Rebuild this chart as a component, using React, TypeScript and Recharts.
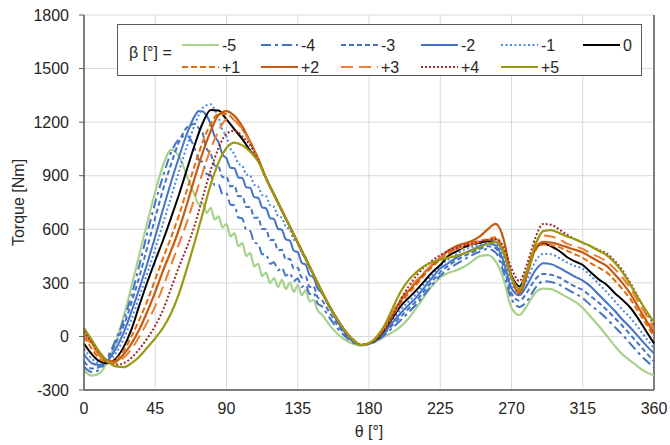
import { LineChart, Line, XAxis, YAxis, CartesianGrid, ReferenceLine } from "recharts";

// rotor angle samples (deg)
const theta = [
  0, 5, 10, 15, 20, 25, 30, 35, 40, 45, 50, 55, 60, 65, 70, 75, 80, 85, 90, 95, 100, 105, 110, 115, 120,
  125, 130, 135, 140, 145, 150, 155, 160, 165, 170, 175, 180, 185, 190, 195, 200, 205, 210, 215, 220, 225,
  230, 235, 240, 245, 250, 255, 260, 265, 270, 275, 280, 285, 290, 295, 300, 305, 310, 315, 320, 325, 330,
  335, 340, 345, 350, 355, 360,
];
// extra samples where the negative-beta curves ripple
const rippleTheta = [72.5, 77.5, 82.5, 87.5, 92.5, 97.5, 102.5, 107.5, 112.5, 117.5, 122.5, 127.5, 132.5, 137.5, 142.5, 147.5];

const xTicks = [0, 45, 90, 135, 180, 225, 270, 315, 360];
const yTicks = [-300, 0, 300, 600, 900, 1200, 1500, 1800];

const torqueM5 = [
  -190, -220, -205, -140, -35, 110, 280, 460, 640, 810, 960, 1045, 1010, 900, 790,
  745, 720, 672, 630, 577, 522, 467, 407, 357, 327, 317, 302, 287, 260, 205,
  125, 65, 15, -20, -42, -50,
  -42, -25, 0, 25, 55, 100, 160, 225, 285, 330, 355, 370, 390, 420, 450, 455, 420, 320, 160, 120, 175, 245,
  268, 265, 245, 220, 195, 160, 110, 60, 5, -50, -100, -135, -170, -200, -218,
];
const rippleM5 = [740, 690, 655, 610, 560, 505, 450, 392, 338, 298, 278, 266, 250, 230, 195, 145];

const torqueM4 = [
  -170, -200, -185, -115, -20, 90, 230, 400, 580, 750, 900, 1030, 1105, 1125, 1050,
  975, 905, 850, 800, 735, 660, 590, 520, 460, 415, 385, 355, 325, 290, 245,
  170, 105, 45, 0, -35, -50,
  -42, -25, 10, 50, 90, 135, 180, 235, 290, 340, 375, 405, 430, 455, 475, 490, 470, 360, 210, 165, 200, 270,
  310, 305, 290, 265, 240, 215, 175, 140, 100, 55, 10, -40, -90, -135, -175,
];
const rippleM4 = [990, 910, 847, 795, 737, 667, 595, 525, 460, 407, 370, 340, 310, 277, 237, 185];

const torqueM3 = [
  -140, -180, -170, -120, -40, 60, 190, 335, 500, 665, 825, 965, 1090, 1170, 1190,
  1135, 1025, 950, 895, 845, 785, 725, 665, 600, 540, 485, 435, 385, 335, 280,
  205, 135, 65, 10, -30, -48,
  -40, -20, 20, 65, 110, 155, 200, 255, 310, 360, 395, 425, 450, 470, 490, 505, 495, 390, 240, 200, 250, 320,
  350, 345, 330, 305, 280, 260, 225, 190, 150, 105, 60, 10, -40, -90, -140,
];
const rippleM3 = [1165, 1050, 957, 892, 840, 785, 725, 665, 602, 540, 482, 430, 380, 330, 277, 220];

const torqueM2 = [
  -100, -150, -160, -135, -70, 20, 140, 270, 410, 560, 715, 865, 1005, 1135, 1235,
  1260, 1190, 1087, 997, 942, 887, 832, 777, 717, 657, 597, 537, 472, 402, 330,
  245, 165, 85, 20, -25, -48,
  -40, -20, 25, 80, 130, 175, 220, 275, 330, 380, 410, 440, 465, 485, 505, 520, 510, 420, 270, 230, 290, 370,
  410, 405, 385, 360, 335, 313, 280, 235, 190, 145, 95, 50, 0, -50, -95,
];
const rippleM2 = [1262, 1235, 1120, 1018, 945, 890, 835, 780, 723, 663, 603, 543, 480, 413, 343, 270];

const torqueM1 = [
  -70, -125, -150, -140, -95, -15, 95, 225, 355, 490, 635, 780, 925, 1065, 1185,
  1280, 1300, 1225, 1120, 1020, 955, 900, 840, 785, 725, 665, 600, 525, 445, 345,
  255, 170, 95, 30, -20, -48,
  -40, -15, 35, 95, 150, 195, 240, 295, 345, 395, 430, 460, 485, 500, 515, 530, 520, 440, 290, 245, 320, 420,
  462, 460, 440, 415, 395, 380, 340, 295, 250, 200, 150, 105, 50, -10, -65,
];
const rippleM1 = [1240, 1295, 1270, 1157, 1050, 967, 907, 850, 792, 735, 675, 612, 542, 465, 385, 300];

const torque0 = [
  -40, -100, -140, -150, -125, -60, 40, 175, 305, 425, 540, 665, 795, 935, 1075,
  1195, 1268, 1265, 1215, 1160, 1105, 1040, 985, 885, 795, 705, 615, 525, 435, 345,
  255, 170, 95, 30, -20, -48,
  -40, -15, 40, 105, 170, 215, 260, 310, 360, 400, 450, 475, 500, 515, 525, 535, 530, 470, 340, 280, 370, 490,
  520, 505, 480, 445, 420, 400, 360, 320, 290, 245, 205, 162, 100, 30, -40,
];

const torqueP1 = [
  0, -70, -125, -145, -130, -80, 0, 95, 200, 320, 440, 555, 680, 820, 960,
  1090, 1190, 1245, 1245, 1210, 1160, 1085, 995, 885, 795, 705, 615, 525, 435, 345,
  255, 170, 95, 30, -20, -48,
  -38, -10, 45, 115, 185, 240, 290, 345, 390, 430, 465, 490, 510, 525, 535, 545, 555, 480, 320, 255, 360, 480,
  515, 510, 500, 480, 460, 440, 410, 385, 360, 315, 265, 210, 140, 70, 0,
];

const torqueP2 = [
  45, -35, -100, -140, -140, -100, -40, 40, 140, 250, 370, 480, 600, 740, 890,
  1030, 1150, 1240, 1262, 1235, 1175, 1090, 995, 885, 795, 705, 615, 525, 435, 345,
  255, 170, 95, 30, -20, -48,
  -38, -8, 50, 125, 200, 255, 305, 355, 400, 440, 480, 505, 520, 535, 560, 600, 630, 545, 330, 240, 350, 490,
  530, 525, 515, 500, 485, 470, 445, 420, 395, 350, 300, 240, 165, 90, 20,
];

const torqueP3 = [
  20, -50, -110, -145, -150, -120, -70, 0, 80, 170, 280, 400, 520, 640, 780,
  920, 1050, 1150, 1215, 1210, 1160, 1085, 995, 885, 795, 705, 615, 525, 435, 345,
  255, 170, 95, 30, -20, -48,
  -38, -5, 55, 135, 210, 265, 315, 360, 405, 440, 470, 490, 500, 515, 530, 540, 545, 480, 330, 270, 380, 520,
  565, 560, 545, 520, 505, 490, 465, 445, 420, 380, 330, 270, 195, 120, 40,
];

const torqueP4 = [
  30, -35, -95, -140, -160, -150, -120, -70, -10, 60, 150, 270, 390, 500, 625,
  780, 930, 1055, 1135, 1152, 1120, 1070, 990, 885, 795, 705, 615, 525, 435, 345,
  255, 170, 95, 30, -20, -48,
  -40, -10, 40, 120, 205, 280, 340, 390, 425, 455, 480, 495, 510, 520, 530, 540, 545, 500, 380, 310, 410, 550,
  630, 625, 600, 570, 545, 525, 505, 485, 465, 425, 370, 300, 220, 140, 65,
];

const torqueP5 = [
  45, -20, -90, -140, -168, -172, -150, -112, -62, -10, 50, 130, 240, 380, 530,
  690, 850, 975, 1055, 1085, 1070, 1035, 980, 885, 795, 705, 615, 525, 435, 345,
  255, 170, 95, 30, -20, -48,
  -38, 0, 65, 160, 250, 315, 360, 395, 415, 430, 440, 450, 465, 480, 500, 520, 530, 470, 330, 265, 370, 510,
  590, 595, 580, 560, 545, 525, 505, 480, 455, 415, 360, 290, 215, 145, 80,
];

const BLUE = "#4472C4";
const ORANGE = "#ED7D31";

const series = [
  { name: "-5", values: torqueM5, ripple: rippleM5, color: "#A9D18E", dash: undefined, width: 2.2 },
  { name: "-4", values: torqueM4, ripple: rippleM4, color: BLUE, dash: "10 4 3 4", width: 2 },
  { name: "-3", values: torqueM3, ripple: rippleM3, color: BLUE, dash: "5 3", width: 2 },
  { name: "-2", values: torqueM2, ripple: rippleM2, color: BLUE, dash: undefined, width: 2 },
  { name: "-1", values: torqueM1, ripple: rippleM1, color: "#4A86E8", dash: "2 2.5", width: 2 },
  { name: "0", values: torque0, ripple: null, color: "#000000", dash: undefined, width: 2 },
  { name: "+1", values: torqueP1, ripple: null, color: "#E46C0A", dash: "6 3", width: 2 },
  { name: "+2", values: torqueP2, ripple: null, color: "#C55A11", dash: undefined, width: 2.2 },
  { name: "+3", values: torqueP3, ripple: null, color: ORANGE, dash: "12 6", width: 2 },
  { name: "+4", values: torqueP4, ripple: null, color: "#A0282D", dash: "2 2", width: 2 },
  { name: "+5", values: torqueP5, ripple: null, color: "#9A9A10", dash: undefined, width: 2.2 },
];

const toPoints = (values: number[], ripple: number[] | null) => {
  const pts = theta.map((t, i) => ({ theta: t, torque: values[i] }));
  if (ripple) rippleTheta.forEach((t, i) => pts.push({ theta: t, torque: ripple[i] }));
  return pts.sort((a, b) => a.theta - b.theta);
};

const FONT = '"Liberation Sans", Arial, Helvetica, sans-serif';
const TEXT = "#262626";

const legendCols = [181, 260, 340, 420, 500, 582];
const legendRows = [44, 66];
const LEG_LEFT = 117;
const LEG_TOP = 24;

const LegendBox = () => (
  <svg
    width={525}
    height={52}
    style={{ position: "absolute", left: LEG_LEFT, top: LEG_TOP, background: "#fff", border: "1.5px solid #595959", boxSizing: "border-box" }}
  >
    <text x={11} y={27} fontSize={16} fill={TEXT} fontFamily={FONT} dominantBaseline="central">
      β [°] =
    </text>
    {series.map((s, i) => {
      const x0 = legendCols[i % 6] - LEG_LEFT;
      const y0 = legendRows[Math.floor(i / 6)] - LEG_TOP;
      return (
        <g key={s.name}>
          <line x1={x0} x2={x0 + 37} y1={y0} y2={y0} stroke={s.color} strokeWidth={s.width} strokeDasharray={s.dash} />
          <text x={x0 + 40} y={y0} fontSize={16} fill={TEXT} fontFamily={FONT} dominantBaseline="central">
            {s.name}
          </text>
        </g>
      );
    })}
  </svg>
);

export default function App() {
  return (
    <div style={{ position: "absolute", left: 0, top: 0, width: 670, height: 445, background: "#fff", fontFamily: FONT }}>
      <LineChart width={670} height={445} margin={{ top: 15, right: 16, bottom: 0, left: 24 }}>
        <CartesianGrid stroke="#D9D9D9" strokeWidth={1} />
        <XAxis
          type="number"
          dataKey="theta"
          domain={[0, 360]}
          ticks={xTicks}
          height={55}
          axisLine={{ stroke: "#595959", strokeWidth: 1.5 }}
          tickLine={false}
          tickSize={6}
          tickMargin={7}
          tick={{ fill: TEXT, fontSize: 16 }}
          label={{ value: "θ [°]", position: "insideBottom", offset: 8, fill: TEXT, fontSize: 16 }}
        />
        <YAxis
          type="number"
          domain={[-300, 1800]}
          ticks={yTicks}
          width={60}
          allowDataOverflow
          axisLine={{ stroke: "#595959", strokeWidth: 1.5 }}
          tickLine={{ stroke: "#595959" }}
          tickSize={5}
          tickMargin={10}
          tick={{ fill: TEXT, fontSize: 16 }}
          label={{ value: "Torque [Nm]", angle: -90, position: "center", dx: -36, fill: TEXT, fontSize: 16 }}
        />
        <ReferenceLine x={360} stroke="#595959" strokeWidth={1.5} />
        {series.map((s) => (
          <Line
            key={s.name}
            data={toPoints(s.values, s.ripple)}
            dataKey="torque"
            name={s.name}
            type="monotone"
            stroke={s.color}
            strokeWidth={s.width}
            strokeDasharray={s.dash}
            dot={false}
            activeDot={false}
            isAnimationActive={false}
          />
        ))}
      </LineChart>
      <LegendBox />
    </div>
  );
}
